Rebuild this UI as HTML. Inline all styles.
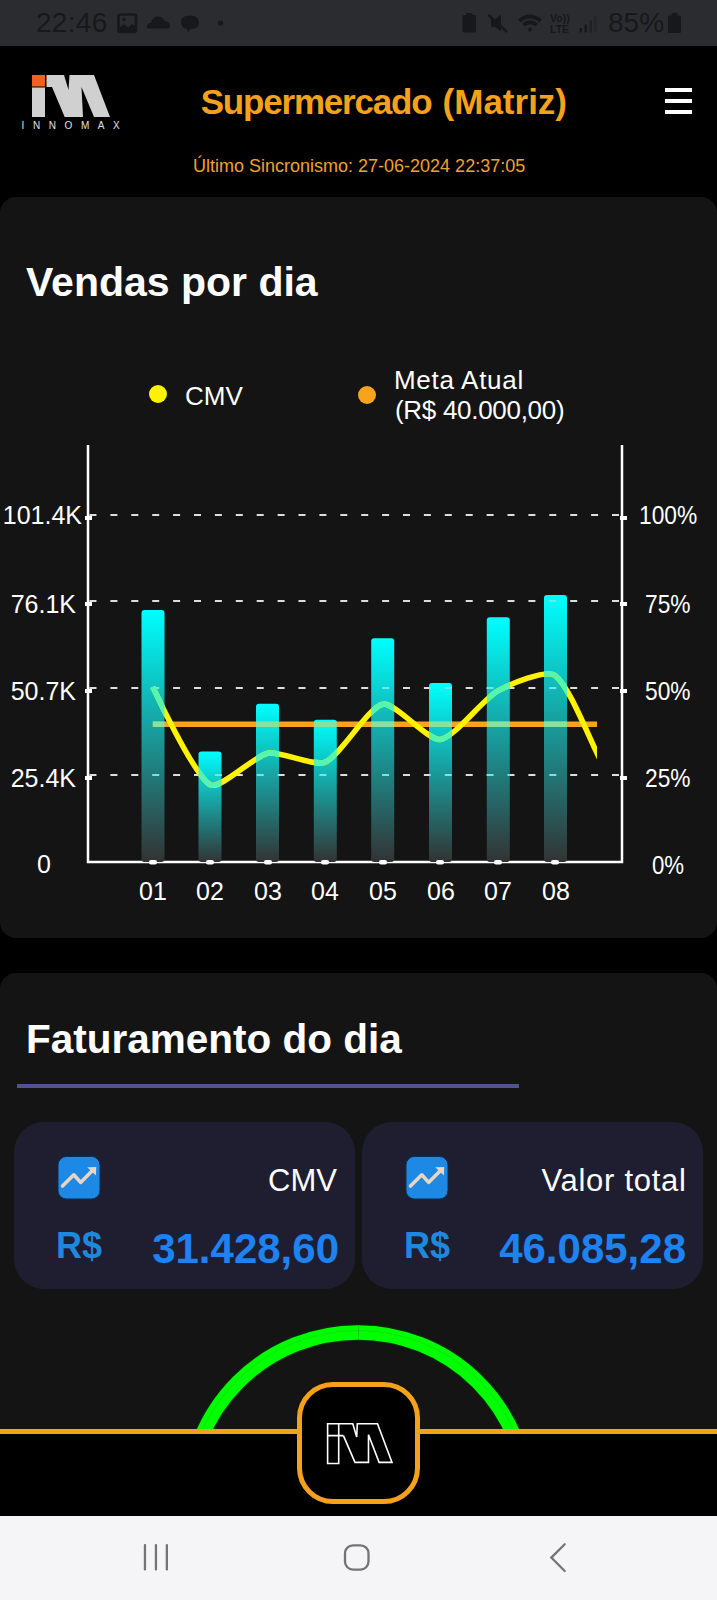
<!DOCTYPE html>
<html><head><meta charset="utf-8">
<style>
*{margin:0;padding:0;box-sizing:border-box}
html,body{width:717px;height:1600px;overflow:hidden;background:#000;font-family:"Liberation Sans",sans-serif}
.abs{position:absolute}
.t{position:absolute;white-space:nowrap;line-height:1}
#status{left:0;top:0;width:717px;height:46px;background:#2b2c30}
#card1{left:0;top:197px;width:717px;height:741px;background:#141414;border-radius:16px}
#card2{left:0;top:973px;width:717px;height:700px;background:#141414;border-radius:16px}
.vc{position:absolute;top:1122px;width:341px;height:167px;background:#1e1e30;border-radius:30px}
#bottombar{left:0;top:1432px;width:717px;height:84px;background:#000}
#nav{left:0;top:1516px;width:717px;height:84px;background:#f5f5f7}
</style></head><body>
<div id="status" class="abs"></div>
<div class="t" id="time" style="left:36px;top:9px;font-size:28px;color:#17181b;letter-spacing:0.3px">22:46</div>
<div class="t" id="pct" style="left:608px;top:9px;font-size:28px;color:#17181b">85%</div>
<svg class="abs" style="left:0;top:0" width="717" height="46" viewBox="0 0 717 46">
  <g fill="#17181b" stroke="none">
    <rect x="118.5" y="14.5" width="17.5" height="17.5" rx="2" fill="none" stroke="#17181b" stroke-width="2.6"/>
    <path d="M120,31 L120,27 L124,24 L128,27.5 L132,24 L135,26 L135,31 Z"/>
    <circle cx="124" cy="19.5" r="1.8"/>
    <path d="M148,28.5 Q146.5,28.5 146.8,25.5 Q147.5,22.5 151,23 Q152,17 158,16.5 Q163,16.5 164.5,21 Q169.5,21.5 170,25 Q170,28.5 167,28.5 Z"/>
    <path d="M181,22 Q181,15.5 189.5,15.5 Q199,15.5 199,22.5 Q199,28.5 191,29 L187.5,32.5 L187,29 Q181,28 181,22 Z"/>
    <circle cx="220.5" cy="23" r="2.6"/>
    <rect x="462.5" y="15" width="13.5" height="17.5" rx="1.5"/>
    <rect x="466" y="13" width="6.5" height="3"/>
    <path d="M491,19 L495,19 L501,14.5 L501,31.5 L495,27 L491,27 Z"/>
    <path d="M488.5,15 L507,32" stroke="#17181b" stroke-width="2.4"/>
    <path d="M518,19.5 Q530,9.5 542,19.5 L539.5,22.5 Q530,14.5 520.5,22.5 Z"/>
    <path d="M522,23.5 Q530,17 538,23.5 L535.5,26.3 Q530,22 524.5,26.3 Z"/>
    <circle cx="530" cy="29.5" r="2"/>
    <rect x="579.5" y="28" width="2.5" height="4.5"/>
    <rect x="584.5" y="24.5" width="2.5" height="8"/>
    <rect x="589.5" y="20.5" width="2.5" height="12" fill="#202125"/>
    <rect x="594" y="16.5" width="2.5" height="16" fill="#24252a"/>
    <rect x="668" y="15.5" width="13" height="17.5" rx="1.5"/>
    <rect x="671.5" y="13" width="6" height="3"/>
  </g>
  <text x="550" y="22" font-family="Liberation Sans" font-size="10.5" font-weight="bold" fill="#17181b">Vo))</text>
  <text x="550" y="32.5" font-family="Liberation Sans" font-size="10.5" font-weight="bold" fill="#17181b">LTE</text>
</svg>

<!-- header logo -->
<svg class="abs" style="left:0;top:46px" width="140" height="100" viewBox="0 46 140 100">
  <rect x="32" y="75" width="13" height="11.5" fill="#f0601f"/>
  <rect x="32" y="87.5" width="13" height="29.5" fill="#d0d0d0"/>
  <path d="M46.5,75 L64,75 L68.5,90 L69.5,75 L94,75 L110,117 L94,117 L81.5,87 L83,117 L64.7,117 L52,87 L46.5,87 Z" fill="#d0d0d0"/>
</svg>
<div class="t" id="innomax" style="left:21.5px;top:121px;font-size:10px;color:#e0e0e0;letter-spacing:8.6px">INNOMAX</div>

<div class="t" id="title" style="left:200.7px;top:84px;font-size:35px;font-weight:bold;color:#f5a21b;letter-spacing:-1.2px">Supermercado</div><div class="t" id="title2" style="left:442.6px;top:84px;font-size:35px;font-weight:bold;color:#f5a21b">(Matriz)</div>
<div class="abs" style="left:664.5px;top:88px;width:27.7px;height:4.3px;background:#fff"></div>
<div class="abs" style="left:664.5px;top:98.8px;width:27.7px;height:4.3px;background:#fff"></div>
<div class="abs" style="left:664.5px;top:110px;width:27.7px;height:4.3px;background:#fff"></div>
<div class="t" id="sub" style="left:193px;top:156.5px;font-size:18px;color:#eea235">Último Sincronismo: 27-06-2024 22:37:05</div>

<div id="card1" class="abs"></div>
<div class="t" id="h1" style="left:26px;top:261.5px;font-size:41px;font-weight:bold;color:#fff">Vendas por dia</div>


<svg class="abs" style="left:0;top:430px" width="717" height="500" viewBox="0 430 717 500">
  <defs>
    <linearGradient id="bg" x1="0" y1="0" x2="0" y2="1">
      <stop offset="0" stop-color="#00ffff"/>
      <stop offset="1" stop-color="#333333"/>
    </linearGradient>
  </defs>
  <!-- grid -->
  <g stroke="#dddddd" stroke-width="2.2" stroke-dasharray="7,13.9" fill="none">
    <path d="M89.5,515H622 M89.5,601H622 M89.5,688H622 M89.5,775H622"/>
  </g>
  <!-- axes -->
  <path d="M88,445V862H622V445" stroke="#fff" stroke-width="2.5" fill="none"/>
  <g fill="#fff">
    <rect x="85" y="516" width="7" height="4"/><rect x="85" y="602" width="7" height="4"/><rect x="85" y="689" width="7" height="4"/><rect x="85" y="776" width="7" height="4"/>
    <rect x="620" y="516" width="7" height="4"/><rect x="620" y="602" width="7" height="4"/><rect x="620" y="689" width="7" height="4"/><rect x="620" y="776" width="7" height="4"/>
  </g>
  <g id="barset">
    <rect x="141.5" y="610" width="23" height="252" rx="3" fill="url(#bg)"/>
    <rect x="198.5" y="751.4" width="23" height="110.6" rx="3" fill="url(#bg)"/>
    <rect x="256" y="703.7" width="23" height="158.3" rx="3" fill="url(#bg)"/>
    <rect x="313.8" y="719.8" width="23" height="142.2" rx="3" fill="url(#bg)"/>
    <rect x="371.2" y="638.2" width="23" height="223.8" rx="3" fill="url(#bg)"/>
    <rect x="429" y="683" width="23" height="179" rx="3" fill="url(#bg)"/>
    <rect x="486.8" y="617.2" width="23" height="244.8" rx="3" fill="url(#bg)"/>
    <rect x="544" y="595.1" width="23" height="266.9" rx="3" fill="url(#bg)"/>
  </g>
  <clipPath id="cl"><rect x="88" y="440" width="509" height="430"/></clipPath>
  <g clip-path="url(#cl)" fill="none">
    <path d="M152.8,724.3H620" stroke="#f7a31c" stroke-width="5.5"/>
    <path d="M152.8,686.8 C152.8,686.8 193.5,775.1 210.3,784.8 C220.0,790.3 253.8,756.0 267.8,753.2 C280.2,750.8 314.3,766.8 325.3,762.1 C340.7,755.5 368.3,707.0 382.8,704.2 C394.8,701.8 427.8,740.9 440.3,739.5 C454.2,737.9 483.0,699.1 497.8,690.9 C509.5,684.5 546.6,668.6 555.3,675.6 C573.1,689.7 596.6,760.4 612.8,782.6 C623.0,796.6 670.3,833.1 670.3,833.1" stroke="#fff200" stroke-width="5.5" stroke-linejoin="round"/>
  </g>
  <clipPath id="bc">
    <rect x="141.5" y="610" width="23" height="252"/><rect x="198.5" y="751.4" width="23" height="110.6"/><rect x="256" y="703.7" width="23" height="158.3"/><rect x="313.8" y="719.8" width="23" height="142.2"/><rect x="371.2" y="638.2" width="23" height="223.8"/><rect x="429" y="683" width="23" height="179"/><rect x="486.8" y="617.2" width="23" height="244.8"/><rect x="544" y="595.1" width="23" height="266.9"/>
  </clipPath>
  <g clip-path="url(#bc)" fill="none">
    <path d="M89.5,515H622 M89.5,601H622 M89.5,688H622 M89.5,775H622" stroke="#70e6e6" stroke-width="2.2" stroke-dasharray="7,13.9"/>
    <path d="M152.8,724.3H620" stroke="#86e2a2" stroke-width="5.5"/>
    <path d="M152.8,686.8 C152.8,686.8 193.5,775.1 210.3,784.8 C220.0,790.3 253.8,756.0 267.8,753.2 C280.2,750.8 314.3,766.8 325.3,762.1 C340.7,755.5 368.3,707.0 382.8,704.2 C394.8,701.8 427.8,740.9 440.3,739.5 C454.2,737.9 483.0,699.1 497.8,690.9 C509.5,684.5 546.6,668.6 555.3,675.6 C573.1,689.7 596.6,760.4 612.8,782.6 C623.0,796.6 670.3,833.1 670.3,833.1" stroke="#55f5b0" stroke-width="5.5" stroke-linejoin="round"/>
  </g>
  <g fill="#fff">
    <rect x="149" y="860" width="8" height="4.5" rx="2"/><rect x="206" y="860" width="8" height="4.5" rx="2"/><rect x="264" y="860" width="8" height="4.5" rx="2"/><rect x="321" y="860" width="8" height="4.5" rx="2"/>
    <rect x="379" y="860" width="8" height="4.5" rx="2"/><rect x="436" y="860" width="8" height="4.5" rx="2"/><rect x="494" y="860" width="8" height="4.5" rx="2"/><rect x="551" y="860" width="8" height="4.5" rx="2"/>
  </g>
</svg>
<div class="abs" style="left:149px;top:385px;width:18px;height:18px;border-radius:50%;background:#fff200"></div>
<div class="t" id="lg1" style="left:185px;top:383px;font-size:26px;color:#fff">CMV</div>
<div class="abs" style="left:358px;top:386px;width:18px;height:18px;border-radius:50%;background:#f7a31c"></div>
<div class="t" id="lg2" style="left:394px;top:367px;font-size:26px;color:#fff;letter-spacing:0.7px">Meta Atual</div>
<div class="t" id="lg3" style="left:395px;top:397px;font-size:26px;color:#fff;letter-spacing:-0.3px">(R$ 40.000,00)</div>
<div class="t yl" id="yl1" style="right:635px;top:503px;font-size:25px;color:#fff">101.4K</div>
<div class="t yl" style="right:641px;top:591.5px;font-size:25px;color:#fff">76.1K</div>
<div class="t yl" style="right:641px;top:678.5px;font-size:25px;color:#fff">50.7K</div>
<div class="t yl" style="right:641px;top:765.5px;font-size:25px;color:#fff">25.4K</div>
<div class="t yl" style="left:37px;top:852px;font-size:25px;color:#fff">0</div>
<div class="t" style="left:638.5px;top:503px;font-size:25px;color:#fff;transform:scaleX(0.91);transform-origin:0 0">100%</div>
<div class="t" style="left:644.5px;top:592px;font-size:25px;color:#fff;transform:scaleX(0.91);transform-origin:0 0">75%</div>
<div class="t" style="left:644.5px;top:679px;font-size:25px;color:#fff;transform:scaleX(0.91);transform-origin:0 0">50%</div>
<div class="t" style="left:644.5px;top:766px;font-size:25px;color:#fff;transform:scaleX(0.91);transform-origin:0 0">25%</div>
<div class="t" style="left:651.5px;top:853px;font-size:25px;color:#fff;transform:scaleX(0.89);transform-origin:0 0">0%</div>
<div class="t" id="xl1" style="left:139px;top:879px;font-size:25px;color:#fff">01</div>
<div class="t" style="left:196px;top:879px;font-size:25px;color:#fff">02</div>
<div class="t" style="left:254px;top:879px;font-size:25px;color:#fff">03</div>
<div class="t" style="left:311px;top:879px;font-size:25px;color:#fff">04</div>
<div class="t" style="left:369px;top:879px;font-size:25px;color:#fff">05</div>
<div class="t" style="left:427px;top:879px;font-size:25px;color:#fff">06</div>
<div class="t" style="left:484px;top:879px;font-size:25px;color:#fff">07</div>
<div class="t" style="left:542px;top:879px;font-size:25px;color:#fff">08</div>

<div id="card2" class="abs"></div>
<div class="t" id="h2" style="left:26px;top:1019px;font-size:40.5px;font-weight:bold;color:#fff">Faturamento do dia</div>
<div class="abs" style="left:17px;top:1084px;width:502px;height:3.5px;background:#52528f"></div>

<div class="vc" style="left:14px"></div>
<div class="vc" style="left:362px"></div>


<svg class="abs" style="left:57px;top:1156px" width="44" height="44" viewBox="0 0 44 44">
  <rect x="1" y="0.5" width="42" height="42.5" rx="8.5" fill="#1e88e5" stroke="#0d2f55" stroke-width="1"/>
  <path d="M5.5,30.1 L16.8,18.8 L23.6,26.4 L36,14" stroke="#e8d6c2" stroke-width="3.6" fill="none" stroke-linejoin="round" stroke-linecap="round"/>
  <path d="M30.2,11.2 L39.2,10.9 L38.9,19.5 Z" fill="#e8d6c2"/>
</svg>
<svg class="abs" style="left:405px;top:1156px" width="44" height="44" viewBox="0 0 44 44">
  <rect x="1" y="0.5" width="42" height="42.5" rx="8.5" fill="#1e88e5" stroke="#0d2f55" stroke-width="1"/>
  <path d="M5.5,30.1 L16.8,18.8 L23.6,26.4 L36,14" stroke="#e8d6c2" stroke-width="3.6" fill="none" stroke-linejoin="round" stroke-linecap="round"/>
  <path d="M30.2,11.2 L39.2,10.9 L38.9,19.5 Z" fill="#e8d6c2"/>
</svg>
<div class="t" id="cmv2" style="right:380px;top:1165px;font-size:31px;color:#fff">CMV</div>
<div class="t" id="vt" style="right:30.5px;top:1165px;font-size:31px;color:#fff;letter-spacing:0.7px">Valor total</div>
<div class="t" id="rs1" style="left:56px;top:1228px;font-size:36px;font-weight:bold;color:#2088dc">R$</div>
<div class="t" id="rs2" style="left:404px;top:1228px;font-size:36px;font-weight:bold;color:#2088dc">R$</div>
<div class="t" id="v1" style="right:378px;top:1227.5px;font-size:42px;font-weight:bold;color:#1e82f0">31.428,60</div>
<div class="t" id="v2" style="right:31px;top:1227.5px;font-size:42px;font-weight:bold;color:#1e82f0">46.085,28</div>

<svg class="abs" style="left:0;top:1300px" width="717" height="220" viewBox="0 1300 717 220">
  <circle cx="358" cy="1502" r="169.6" stroke="#0b2a0b" stroke-width="17" fill="none"/><circle cx="358" cy="1502" r="169.6" stroke="#00ff00" stroke-width="14.5" fill="none"/><circle cx="358" cy="1502" r="171.5" stroke="#10d010" stroke-width="0.6" fill="none"/><path d="M358.5,1325 V1339" stroke="#10c010" stroke-width="0.8"/>
</svg>

<div id="bottombar" class="abs"></div>
<div class="abs" style="left:0;top:1429px;width:717px;height:5px;background:#f5a21b"></div>
<div id="nav" class="abs"></div>

<div class="abs" style="left:297px;top:1382px;width:123px;height:122px;border:5.5px solid #f5a21b;border-radius:36px;background:#000"></div>
<svg class="abs" style="left:320px;top:1415px" width="80" height="55" viewBox="320 1415 80 55">
  <g stroke="#fff" stroke-width="1.6" fill="none" stroke-linejoin="miter">
    <path d="M327.6,1423.7 H338.7 V1463.5 H327.6 Z M327.6,1435.6 H343.4"/>
    <path d="M338.7,1423.7 L352.8,1423.7 L356.7,1437 L357.3,1423.7 L377.5,1423.7 L392,1462.4 L379.1,1462.4 L368.5,1434.7 L368.5,1462.4 L355,1462.4 L343.4,1435.6"/>
  </g>
</svg>
<svg class="abs" style="left:0;top:1516px" width="717" height="84" viewBox="0 1516 717 84">
  <g fill="#747474">
    <rect x="143.8" y="1544" width="2.3" height="26.5" rx="1"/>
    <rect x="154.8" y="1544" width="2.3" height="26.5" rx="1"/>
    <rect x="165.7" y="1544" width="2.3" height="26.5" rx="1"/>
  </g>
  <rect x="345" y="1545.3" width="23.5" height="24.3" rx="8" stroke="#747474" stroke-width="2.3" fill="none"/>
  <path d="M564.7,1544.2 L551.3,1557.6 L564.7,1571" stroke="#747474" stroke-width="2.3" fill="none" stroke-linecap="round"/>
</svg>
</body></html>
